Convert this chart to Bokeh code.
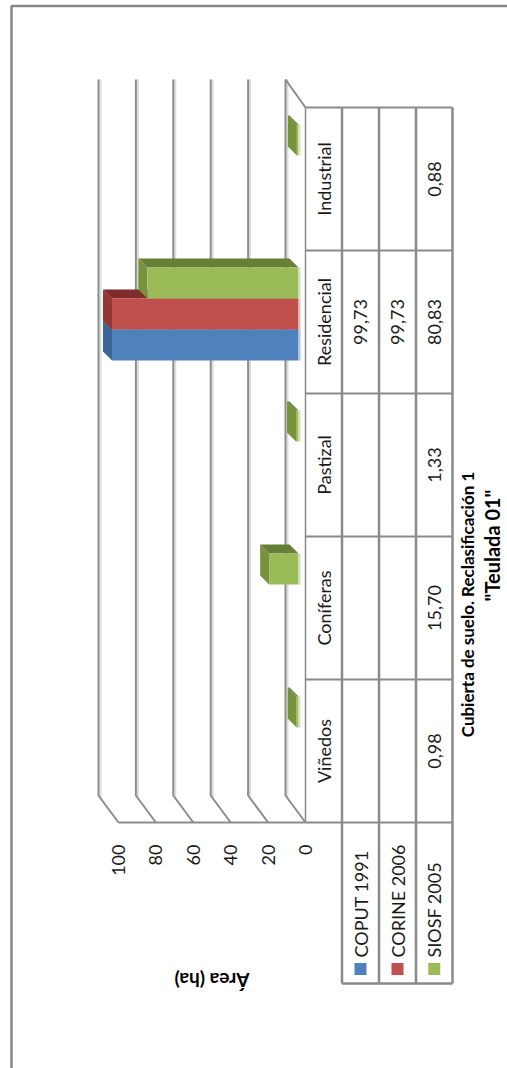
import numpy as np
from bokeh.plotting import figure
from bokeh.models import Range1d
from bokeh.core.properties import value
from bokeh.embed import file_html
from bokeh.resources import INLINE

# ---------------- data ----------------
chart_title = '"Teulada 01"'
x_title = "Cubierta de suelo. Reclasificación 1"
y_title = "Área (ha)"
categories = ["Viñedos", "Coníferas", "Pastizal", "Residencial", "Industrial"]
series_names = ["COPUT 1991", "CORINE 2006", "SIOSF 2005"]
coput_1991 = [None, None, None, 99.73, None]
corine_2006 = [None, None, None, 99.73, None]
siosf_2005 = [0.98, 15.70, 1.33, 80.83, 0.88]
value_ticks = [0, 20, 40, 60, 80, 100]

series_values = [coput_1991, corine_2006, siosf_2005]
front_colors = ["#4f81bd", "#c0504d", "#9bbb59"]
end_colors = ["#3c6595", "#943634", "#76923c"]
side_colors = ["#395c87", "#7f2b29", "#677f37"]
pale_colors = ["#a9c2e0", "#e8b8b6", "#d4e3b5"]

# ---------------- geometry (page pixels -> data units) ----------------
W, H = 507, 1068
X0, S = 298.0, 1.87      # pixel of value 0 (bar base) and px per unit
Y0, C = 750.5, 143.0     # pixel of first category centre and px per category


def px(x):
    return (X0 - x) / S


def py(y):
    return (Y0 - y) / C


FONT = value("Lato")
GRID = "#8c8c8c"
LINE = "#8a8a8a"
TXT = "#1a1a1a"

p = figure(width=W, height=H, x_range=Range1d(px(0), px(W)),
           y_range=Range1d(py(H), py(0)), min_border=0,
           output_backend="svg", toolbar_location=None,
           x_axis_location=None, y_axis_location=None)
p.grid.visible = False
p.outline_line_color = None
p.background_fill_color = "white"
p.border_fill_color = "white"

# chart border (top and left sides visible)
p.line([px(11), px(11), px(W + 5)], [py(H + 5), py(5.5), py(5.5)],
       line_color="#878787", line_width=2.5)

# wall / floor geometry
BDX = px(285) - px(298)   # back wall offset in value units
FDX = px(305) - px(298)   # front (table) offset
FT, FB = py(107), py(822)
BT, BB = py(79), py(795)

gx, gy, sx, sy = [], [], [], []
for t in value_ticks:
    if t == 0:
        gx.append([t + FDX, t + BDX, t + BDX, t + FDX])
        gy.append([FT, BT, BB, FB])
    else:
        gx.append([t + BDX, t + BDX, t + FDX])
        gy.append([BT, BB, FB])
    sx.append([t + BDX - 2 / S, t + BDX - 2 / S])
    sy.append([BT, BB - 2 / C])
p.multi_line(sx, sy, line_color="#dcdcdc", line_width=2)
p.multi_line(gx, gy, line_color=GRID, line_width=2)
# front floor edge
p.line([max(value_ticks) + FDX, FDX], [FB, FB], line_color=GRID, line_width=2)

# ---------------- bars (3D look) ----------------
WID = 31 / C
OFF0 = -23 / C
DX, DY = 9 / S, 9 / C
for i, vals in enumerate(series_values):
    xs_f, ys_f, cols = [], [], []
    lefts, rights, tops, bots = [], [], [], []
    for k, v in enumerate(vals):
        if v is None:
            continue
        c = k + OFF0 + i * WID
        top, bot = c + WID / 2, c - WID / 2
        xs_f.append([0, v, v + DX, DX])
        ys_f.append([top, top, top + DY, top + DY])
        cols.append(side_colors[i])
        xs_f.append([v, v, v + DX, v + DX])
        ys_f.append([bot, top, top + DY, bot + DY])
        cols.append(end_colors[i])
        lefts.append(0)
        rights.append(v)
        tops.append(top)
        bots.append(bot)
    p.patches(xs_f, ys_f, fill_color=cols, line_color=None)
    p.quad(left=lefts, right=rights, top=tops, bottom=bots,
           fill_color=front_colors[i], line_color=None)
    p.segment(x0=[-1 / S] * len(tops), x1=[-1 / S] * len(tops), y0=bots, y1=tops,
              line_color=pale_colors[i], line_width=2)

# ---------------- data table ----------------
TX = [305, 341.5, 378.5, 415.5, 452]
LEG_B = py(983)
n = len(categories)
hy = [k - 0.5 for k in range(n + 1)]
p.segment(x0=[px(TX[0])] * (n + 1), x1=[px(TX[-1])] * (n + 1), y0=hy, y1=hy,
          line_color=LINE, line_width=2)
p.segment(x0=[px(TX[0])], x1=[px(TX[0])], y0=[FB], y1=[FT], line_color=LINE, line_width=1.5)
p.segment(x0=[px(x) for x in TX[1:]], x1=[px(x) for x in TX[1:]],
          y0=[LEG_B] * 4, y1=[FT] * 4, line_color=LINE, line_width=2.5)
p.segment(x0=[px(TX[1])], x1=[px(TX[-1])], y0=[LEG_B], y1=[LEG_B],
          line_color=LINE, line_width=2.5)

p.text(x=[px((TX[0] + TX[1]) / 2)] * n, y=list(range(n)), text=categories,
       angle=np.pi / 2, text_align="center", text_baseline="middle",
       text_font=FONT, text_font_size="18px", text_color=TXT)

for i, vals in enumerate(series_values):
    ys, txt = [], []
    for k, v in enumerate(vals):
        if v is None:
            continue
        ys.append(k)
        txt.append(f"{v:.2f}".replace(".", ","))
    cx = px((TX[i + 1] + TX[i + 2]) / 2)
    p.text(x=[cx] * len(ys), y=ys, text=txt, angle=np.pi / 2,
           text_align="center", text_baseline="middle",
           text_font=FONT, text_font_size="18px", text_color=TXT)

key_x = [px((TX[i + 1] + TX[i + 2]) / 2) for i in range(3)]
p.rect(x=key_x, y=[py(968.5)] * 3, width=12 / S, height=12 / C,
       fill_color=front_colors, line_color=None)
p.text(x=key_x, y=[py(957)] * 3, text=series_names, angle=np.pi / 2,
       text_align="left", text_baseline="middle",
       text_font=FONT, text_font_size="18px", text_color=TXT)

p.text(x=[t + FDX for t in value_ticks], y=[py(844)] * len(value_ticks),
       text=[str(t) for t in value_ticks], angle=np.pi / 2,
       text_align="right", text_baseline="middle",
       text_font=FONT, text_font_size="18px", text_color=TXT)

p.text(x=[(max(value_ticks) / 2) + FDX], y=[py(980)], text=[y_title], angle=np.pi,
       text_align="center", text_baseline="middle",
       text_font=FONT, text_font_size="19px", text_font_style="bold", text_color="black")
p.text(x=[px(467)], y=[py(604)], text=[x_title], angle=np.pi / 2,
       text_align="center", text_baseline="middle",
       text_font=FONT, text_font_size="17px", text_font_style="bold", text_color="black")
p.text(x=[px(491)], y=[py(545)], text=[chart_title], angle=np.pi / 2,
       text_align="center", text_baseline="middle",
       text_font=FONT, text_font_size="20px", text_font_style="bold", text_color="black")

open("out.html", "w").write(file_html(p, INLINE))
